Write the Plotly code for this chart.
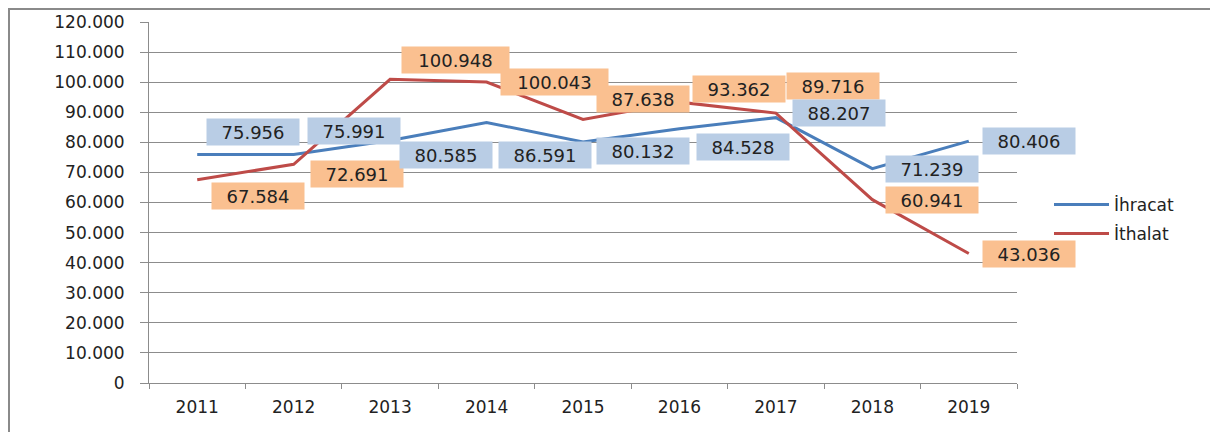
import plotly.graph_objects as go

# ---- data ----
years = ["2011", "2012", "2013", "2014", "2015", "2016", "2017", "2018", "2019"]
ihracat = [75956, 75991, 80585, 86591, 80132, 84528, 88207, 71239, 80406]
ithalat = [67584, 72691, 100948, 100043, 87638, 93362, 89716, 60941, 43036]
series_names = ["İhracat", "İthalat"]
y_max = 120000
y_step = 10000

# ---- style ----
FONT = "DejaVu Sans"
BLUE, RED = "#4A7EBB", "#BE4B48"
BLUE_BOX, ORANGE_BOX = "#B9CDE5", "#FAC090"
GRID = "#8C8C8C"
TXT = "#222222"

# plot area in figure pixels
L, T, PW, PH = 141, 14, 868, 361
W, H = 1218, 432

# label offsets in pixels (right, down) relative to each point
ihr_off = [(56, -23), (60, -23), (56, 14), (58, 32), (60, 9), (64, 18), (63, -5), (60, 0), (60, 0)]
ith_off = [(61, 16), (63, 10), (65, -19), (68, 0), (60, -20), (60, -13), (57, -27), (60, 0), (60, 0)]


def fmt(v):
    return f"{v:,}".replace(",", ".")


fig = go.Figure()
fig.add_trace(go.Scatter(x=years, y=ihracat, name=series_names[0], mode="lines", legendgroup="a",
                         line=dict(color=BLUE, width=3)))
fig.add_trace(go.Scatter(x=years, y=ithalat, name=series_names[1], mode="lines", legendgroup="b",
                         line=dict(color=RED, width=3)))

annotations = []
for vals, offs, box in ((ithalat, ith_off, ORANGE_BOX), (ihracat, ihr_off, BLUE_BOX)):
    for i, (v, (dx, dy)) in enumerate(zip(vals, offs)):
        t = fmt(v)
        annotations.append(dict(
            x=i, y=v, xref="x", yref="y", text=t, showarrow=False,
            xshift=dx, yshift=-dy, bgcolor=box, width=15 * len(t), height=24,
            font=dict(family=FONT, size=18, color=TXT), align="center",
        ))

fig.update_layout(
    width=W, height=H,
    margin=dict(l=L, r=W - L - PW, t=T, b=H - T - PH),
    paper_bgcolor="white", plot_bgcolor="white",
    separators=",.",
    font=dict(family=FONT, size=17, color=TXT),
    showlegend=True,
    legend=dict(x=(1041 - L) / PW, y=0.453, xanchor="left", yanchor="middle",
                font=dict(family=FONT, size=17, color=TXT), tracegroupgap=4,
                itemwidth=55, bgcolor="rgba(0,0,0,0)"),
    annotations=annotations,
    hovermode=False,
)
fig.update_xaxes(type="category", range=[-0.5, len(years) - 0.5], automargin=False,
                 showgrid=False, showline=True, linecolor=GRID, linewidth=1,
                 ticks="outside", tickson="boundaries", ticklen=5, tickcolor=GRID, tickangle=0,
                 ticklabelstandoff=9,
                 tickfont=dict(family=FONT, size=17, color=TXT))
fig.update_yaxes(range=[0, y_max], dtick=y_step, tick0=0, tickformat=",d", automargin=False,
                 showgrid=True, gridcolor=GRID, gridwidth=1,
                 showline=True, linecolor=GRID, linewidth=1,
                 ticks="outside", ticklen=8, tickcolor=GRID, zeroline=False,
                 ticklabelstandoff=12,
                 tickfont=dict(family=FONT, size=17, color=TXT))

# outer chart frame
fig.add_shape(type="rect", xref="paper", yref="paper",
              x0=(1 - L) / PW, x1=(1208 - L) / PW,
              y0=-(H - T - PH + 20) / PH, y1=(T + PH - 1) / PH,
              line=dict(color="#8A8A8A", width=2), fillcolor="rgba(0,0,0,0)", layer="below")

fig.write_html("out.html")
